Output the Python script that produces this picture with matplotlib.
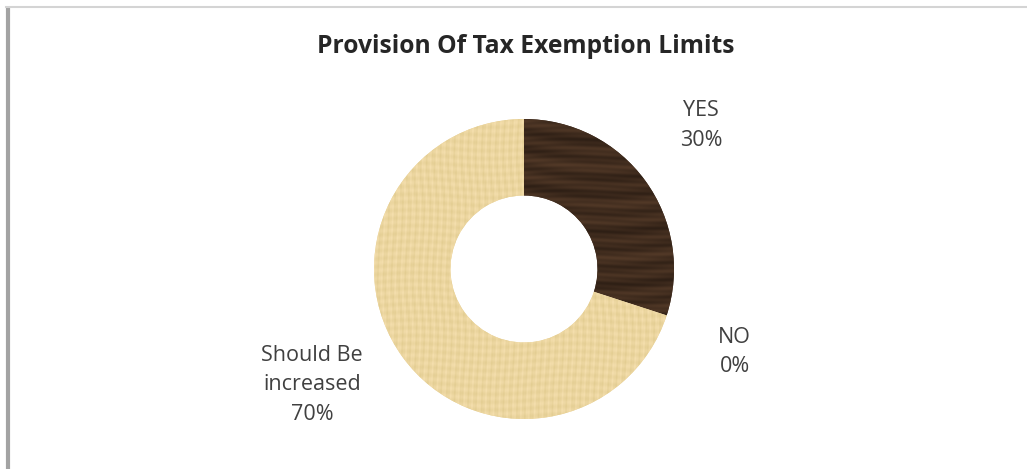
import numpy as np
import matplotlib
matplotlib.use('Agg')
import matplotlib.pyplot as plt

title = "Provision Of Tax Exemption Limits"
categories = ["YES", "NO", "Should Be\nincreased"]
shares = [30, 0, 70]

W, H = 1027, 469
plt.rcParams['font.family'] = ['Open Sans', 'DejaVu Sans']

fig = plt.figure(figsize=(W / 100, H / 100), dpi=100)
ax = fig.add_axes([0, 0, 1, 1])

# pie centre and size in figure pixels (y counted upward)
cx, cy, r = 524, 200, 150
ring = 0.51

wedges, _ = ax.pie(shares, startangle=90, counterclock=False,
                   center=(cx, cy), radius=r,
                   wedgeprops=dict(width=r * ring, linewidth=0),
                   colors=["#3e2a1c", "#ead49c", "#ead49c"])
ax.set_xlim(0, W)
ax.set_ylim(0, H)
ax.set_aspect('auto')
ax.axis('off')

# wood and papyrus textures, clipped to the wedges
yy, xx = np.mgrid[0:2 * r, 0:2 * r].astype(float)
grain = (0.5 * np.sin(yy * 0.35 + 3 * np.sin(xx * 0.02)) +
         0.3 * np.sin(yy * 1.1 + 2 * np.sin(xx * 0.035 + 1.0)) +
         0.2 * np.sin(yy * 0.13 + xx * 0.01))
wood = np.zeros(grain.shape + (3,))
base_dark = np.array([0x40, 0x2c, 0x1e]) / 255
wood[:] = base_dark
wood += (grain[..., None] * np.array([0.07, 0.05, 0.035]))
wood = np.clip(wood, 0, 1)

fib = (0.45 * np.sin(xx * 0.9 + 2 * np.sin(yy * 0.05)) +
       0.35 * np.sin(yy * 0.8 + 1.5 * np.sin(xx * 0.04)) +
       0.2 * np.sin(xx * 2.3 + yy * 0.1))
paper = np.zeros(fib.shape + (3,))
base_light = np.array([0xec, 0xd6, 0xa0]) / 255
paper[:] = base_light
paper += (fib[..., None] * np.array([0.035, 0.035, 0.055]))
paper = np.clip(paper, 0, 1)

extent = (cx - r, cx + r, cy - r, cy + r)
for w, tex in zip(wedges, [wood, paper, paper]):
    im = ax.imshow(tex, extent=extent, interpolation='bilinear', zorder=2)
    im.set_clip_path(w)

# labels placed off each wedge's middle angle
label_dist = [1.52, 1.51, 1.61]
label_shift = [3, -3.5, -7.3]
for w, cat, val, d, s in zip(wedges, categories, shares, label_dist, label_shift):
    mid = np.deg2rad((w.theta1 + w.theta2) / 2 + s)
    ax.text(cx + d * r * np.cos(mid), cy + d * r * np.sin(mid),
            f"{cat}\n{val}%", ha='center', va='center', fontsize=15.5,
            color='#404040', linespacing=1.55, zorder=3)

fig.text(526, H - 53, title, transform=None, ha='center', va='baseline',
         fontsize=17.7, fontweight='bold', color='#262626')

# chart border: grey rule on the left, faint line across the top
ax.plot([8, 8], [0, H - 6], color='#a3a3a3', lw=3, solid_capstyle='butt', zorder=4)
ax.plot([6, W], [H - 7, H - 7], color='#d4d4d4', lw=1.5, zorder=4)

fig.savefig("out.png", dpi=100, facecolor='white')
